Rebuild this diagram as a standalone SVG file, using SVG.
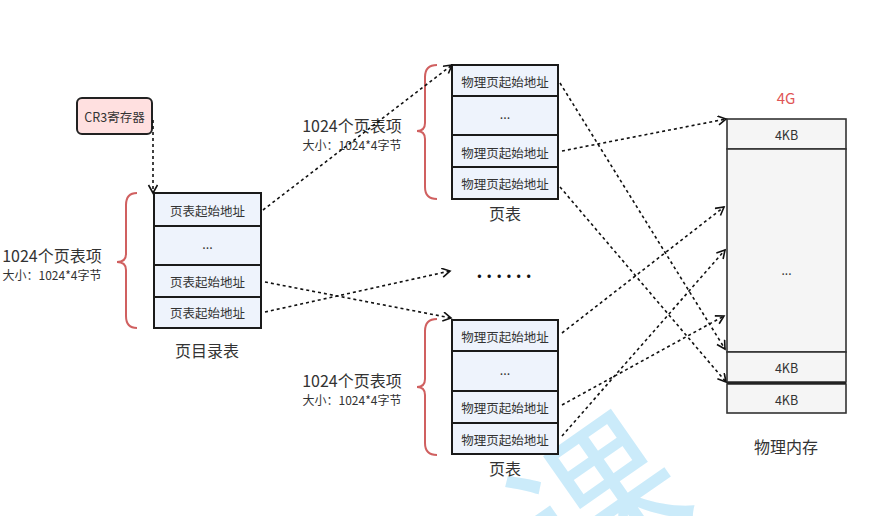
<svg xmlns="http://www.w3.org/2000/svg" width="872" height="516" viewBox="0 0 872 516">
<defs>
<marker id="arr" markerWidth="12" markerHeight="12" refX="9" refY="5" orient="auto" markerUnits="userSpaceOnUse">
<path d="M1,0.5 L9,5 L1,9.5" fill="none" stroke="#111" stroke-width="1.6"/>
</marker>
</defs>
<style>
text{font-family:"Noto Sans CJK SC","Noto Sans",sans-serif;fill:#333;text-anchor:middle;dominant-baseline:central}
.cell{fill:#EEF3FC;stroke:#1a1a1a;stroke-width:2}
.mem{fill:#F5F5F5;stroke:#333;stroke-width:1.6}
.row{font-size:12.5px}
.big{font-size:16px}
.small{font-size:12px}
.brace{fill:none;stroke:#D06060;stroke-width:2}
.conn{fill:none;stroke:#111;stroke-width:1.6;stroke-dasharray:3 3;marker-end:url(#arr)}
</style>
<rect width="872" height="516" fill="#fff"/>
<text x="592" y="495" transform="rotate(-35 592 495)" style="font-size:165px;fill:#CBEBFA">课</text>

<g id="cr3">
<rect x="77" y="98" width="75" height="36" rx="5" fill="#FFE0E0" stroke="#222" stroke-width="2"/>
<text x="114.5" y="116.5" class="row">CR3寄存器</text>
</g>

<g id="page-directory">
<rect class="cell" x="154" y="193" width="107" height="33"/>
<rect class="cell" x="154" y="226" width="107" height="39"/>
<rect class="cell" x="154" y="265" width="107" height="32"/>
<rect class="cell" x="154" y="297" width="107" height="31"/>
<text x="207.5" y="210" class="row">页表起始地址</text>
<text x="207.5" y="243" class="row">...</text>
<text x="207.5" y="281" class="row">页表起始地址</text>
<text x="207.5" y="312.5" class="row">页表起始地址</text>
<text x="207" y="350" class="big">页目录表</text>
<path class="brace" d="M137,193 Q126,193 126,205 L126,254 Q126,262 117,262 Q126,262 126,270 L126,316 Q126,328 137,328"/>
<text x="52" y="255" class="big">1024个页表项</text>
<text x="52" y="274" class="small">大小：1024*4字节</text>
</g>

<g id="page-table-top">
<rect class="cell" x="452" y="65" width="106" height="31"/>
<rect class="cell" x="452" y="96" width="106" height="39"/>
<rect class="cell" x="452" y="135" width="106" height="32"/>
<rect class="cell" x="452" y="167" width="106" height="32"/>
<text x="505" y="81" class="row">物理页起始地址</text>
<text x="505" y="113" class="row">...</text>
<text x="505" y="152" class="row">物理页起始地址</text>
<text x="505" y="183.5" class="row">物理页起始地址</text>
<text x="505" y="213" class="big">页表</text>
<path class="brace" d="M437,65 Q425,65 425,77 L425,123 Q425,131 417,131 Q425,131 425,139 L425,187 Q425,199 437,199"/>
<text x="352" y="125" class="big">1024个页表项</text>
<text x="352" y="144" class="small">大小：1024*4字节</text>
</g>

<g id="page-table-bottom">
<rect class="cell" x="452" y="320" width="106" height="31"/>
<rect class="cell" x="452" y="351" width="106" height="40"/>
<rect class="cell" x="452" y="391" width="106" height="32"/>
<rect class="cell" x="452" y="423" width="106" height="31"/>
<text x="505" y="336" class="row">物理页起始地址</text>
<text x="505" y="369" class="row">...</text>
<text x="505" y="407.5" class="row">物理页起始地址</text>
<text x="505" y="439" class="row">物理页起始地址</text>
<text x="505" y="468" class="big">页表</text>
<path class="brace" d="M437,319 Q425,319 425,331 L425,379 Q425,387 417,387 Q425,387 425,395 L425,443 Q425,455 437,455"/>
<text x="352" y="380" class="big">1024个页表项</text>
<text x="352" y="399" class="small">大小：1024*4字节</text>
</g>

<g id="ellipsis">
<text x="506" y="270" style="font-size:18px;font-weight:bold;fill:#111;letter-spacing:4px">......</text>
</g>

<g id="physical-memory">
<text x="786" y="97" style="font-size:15px;fill:#E05555">4G</text>
<rect class="mem" x="727" y="119" width="119" height="30"/>
<rect class="mem" x="727" y="149" width="119" height="203"/>
<rect class="mem" x="727" y="352" width="119" height="30"/>
<rect class="mem" x="727" y="384" width="119" height="29"/>
<line x1="727" y1="383" x2="846" y2="383" stroke="#222" stroke-width="2"/>
<text x="786.5" y="134" class="row">4KB</text>
<text x="786.5" y="269" class="small">...</text>
<text x="786.5" y="367" class="row">4KB</text>
<text x="786.5" y="399" class="row">4KB</text>
<text x="786" y="446" class="big">物理内存</text>
</g>

<g id="connectors">
<path class="conn" d="M153,120 L153,193"/>
<path class="conn" d="M263,210 L452,65"/>
<path class="conn" d="M265,282 L451,318"/>
<path class="conn" d="M265,312 L450,271"/>
<path class="conn" d="M560,83 L725,349"/>
<path class="conn" d="M562,151 L726,119"/>
<path class="conn" d="M560,187 L726,382"/>
<path class="conn" d="M562,333 L724,207"/>
<path class="conn" d="M562,405 L724,316"/>
<path class="conn" d="M562,436 L725,250"/>
</g>
</svg>
